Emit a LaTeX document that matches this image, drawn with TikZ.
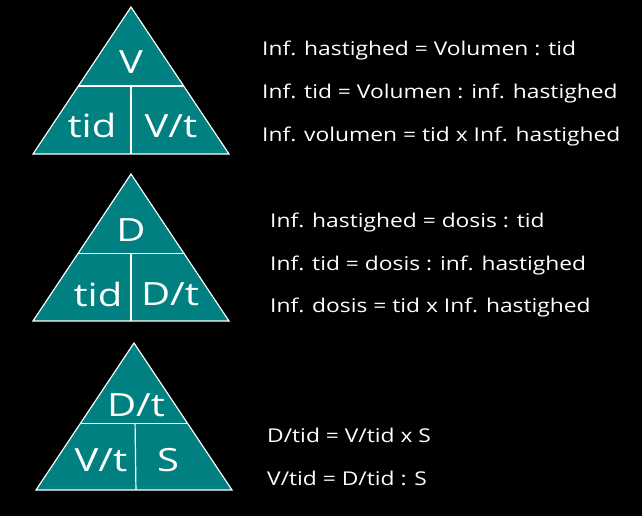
\documentclass[tikz,border=0pt]{standalone}
\usepackage{fontspec}
\setmainfont{Open Sans}
\newfontfamily\handfont[FakeStretch=1.2]{Open Sans}
\newfontfamily\bigfont[FakeStretch=1.25]{Open Sans}
\usepackage{tikz}
\usetikzlibrary{calc, positioning}
\definecolor{triteal}{RGB}{0,128,128}
\tikzset{
    tri/.style={draw=white, line width=1.2pt, fill=triteal, line join=miter},
    divider/.style={draw=white, line width=1.2pt},
    symbol/.style={text=white, font=\bigfont\fontsize{32}{34}\selectfont, inner sep=0pt},
    formula/.style={text=white, font=\handfont\fontsize{19}{21}\selectfont, anchor=base west, inner sep=0pt}
}
\begin{document}
\begin{tikzpicture}[x=1pt, y=-1pt]
    \fill[black] (0,0) rectangle (642,516);
    \useasboundingbox (0,0) rectangle (642,516);

    % volume triangle
    \coordinate (va) at (131,7);
    \coordinate (vb) at (33,154);
    \coordinate (vc) at (229,154);
    \draw [tri] (va) -- (vb) -- (vc) -- cycle;
    \coordinate (vl) at ($(va)!0.537!(vb)$);
    \coordinate (vr) at ($(va)!0.537!(vc)$);
    \coordinate (vm) at ($(vl)!0.5!(vr)$);
    \coordinate (vbm) at ($(vb)!0.5!(vc)$);
    \draw [divider] (vl) -- (vr);
    \draw [divider] (vm) -- (vbm);
    \node (vtop) [symbol] at (131,62) {V};
    \node (vleft) [symbol] at (92,126) {tid};
    \node (vright) [symbol] at (171,126) {V/t};

    % dose triangle
    \coordinate (da) at (131,174);
    \coordinate (db) at (33,321);
    \coordinate (dc) at (229,321);
    \draw [tri] (da) -- (db) -- (dc) -- cycle;
    \coordinate (dl) at ($(da)!0.54!(db)$);
    \coordinate (dr) at ($(da)!0.54!(dc)$);
    \coordinate (dm) at ($(dl)!0.5!(dr)$);
    \coordinate (dbm) at ($(db)!0.5!(dc)$);
    \draw [divider] (dl) -- (dr);
    \draw [divider] (dm) -- (dbm);
    \node (dtop) [symbol] at (131,230) {D};
    \node (dleft) [symbol] at (98,294) {tid};
    \node (dright) [symbol] at (170,294) {D/t};

    % strength triangle
    \coordinate (sa) at (134,343);
    \coordinate (sb) at (36,490);
    \coordinate (sc) at (232,490);
    \draw [tri] (sa) -- (sb) -- (sc) -- cycle;
    \coordinate (sl) at ($(sa)!0.545!(sb)$);
    \coordinate (sr) at ($(sa)!0.545!(sc)$);
    \coordinate (sbm) at ($(sb)!0.51!(sc)$);
    \coordinate (sm) at ($(sl)!0.51!(sr)$);
    \draw [divider] (sl) -- (sr);
    \draw [divider] (sm) -- (sbm);
    \node (stop) [symbol] at (136,405) {D/t};
    \node (sleft) [symbol] at (101,460) {V/t};
    \node (sright) [symbol] at (168,460) {S};

    % formulas
    \node (v1) [formula] at (262,56) {Inf. hastighed = Volumen : tid};
    \node (v2) [formula] at (262,99) {Inf. tid = Volumen : inf. hastighed};
    \node (v3) [formula] at (262,141) {Inf. volumen = tid x Inf. hastighed};

    \node (d1) [formula] at (270,227) {Inf. hastighed = dosis : tid};
    \node (d2) [formula] at (270,270) {Inf. tid = dosis : inf. hastighed};
    \node (d3) [formula] at (270,312) {Inf. dosis = tid x Inf. hastighed};

    \node (s1) [formula] at (267,442) {D/tid = V/tid x S};
    \node (s2) [formula] at (267,485) {V/tid = D/tid : S};
\end{tikzpicture}
\end{document}
